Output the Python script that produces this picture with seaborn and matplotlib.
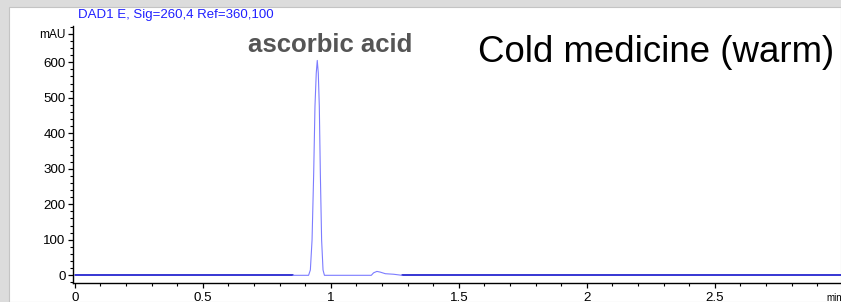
import numpy as np
import pandas as pd
import matplotlib
matplotlib.use("Agg")
import matplotlib.pyplot as plt
from matplotlib.patches import Rectangle
from matplotlib.ticker import MultipleLocator
import seaborn as sns

# ---- data ----
time_min = [0.0, 0.852, 0.913, 0.920, 0.9266, 0.933, 0.938, 0.943, 0.947, 0.951,
            0.955, 0.959, 0.964, 0.9695, 0.975, 1.158, 1.167, 1.180, 1.193, 1.213,
            1.245, 1.278, 3.0]
absorbance_mAU = [0, 0, 0, 15, 99, 287, 475, 569, 605, 569,
                  475, 287, 99, 15, 0, 0, 7, 11, 9, 4.5,
                  3, 0, 0]
x_ticks = [0, 0.5, 1, 1.5, 2, 2.5]
x_tick_labels = ["0", "0.5", "1", "1.5", "2", "2.5"]
y_ticks = [0, 100, 200, 300, 400, 500, 600, 680]
y_tick_labels = ["0", "100", "200", "300", "400", "500", "600", "mAU"]
signal_label = "DAD1 E, Sig=260,4 Ref=360,100"
peak_label = "ascorbic acid"
sample_title = "Cold medicine (warm)"
x_unit = "min"

sns.set_theme(style="ticks")
plt.rcParams["font.family"] = ["Liberation Sans", "DejaVu Sans"]

W, H = 841, 302
fig = plt.figure(figsize=(W / 100, H / 100), dpi=100)
fig.patch.set_facecolor("#dcdcdc")
bg = Rectangle((9 / W, 0), 1 - 9 / W, 1 - 7 / H, transform=fig.transFigure,
               facecolor="white", edgecolor="#c4c4c4", lw=0.8, zorder=-10)
fig.patches.append(bg)

ax = fig.add_axes([73.3 / W, (H - 283.3) / H, 1 - 73.3 / W, (283.3 - 26) / H])
ax.set_zorder(5)
ax.set_facecolor("none")

df = pd.DataFrame({"t": time_min, "a": absorbance_mAU})
t0, t1 = 0.852, 1.278
base_left = df[df.t <= t0]
peak_part = df[(df.t >= t0) & (df.t <= t1)]
base_right = df[df.t >= t1]

sns.lineplot(data=base_left, x="t", y="a", ax=ax, color="#0000c8", lw=1.1, estimator=None, sort=False)
sns.lineplot(data=base_right, x="t", y="a", ax=ax, color="#0000c8", lw=1.1, estimator=None, sort=False)
sns.lineplot(data=peak_part, x="t", y="a", ax=ax, color="#7c7cff", lw=0.8, estimator=None, sort=False)

ax.set_xlim(-0.006, (W - 73.3) / 256 - 0.006)
ax.set_ylim(-22.5, 702)
ax.set_xlabel("")
ax.set_ylabel("")

for s in ["top", "right"]:
    ax.spines[s].set_visible(False)
for s in ["left", "bottom"]:
    ax.spines[s].set_color("black")
    ax.spines[s].set_linewidth(1.0)

ax.set_xticks(x_ticks)
ax.set_xticklabels(x_tick_labels)
ax.set_yticks(y_ticks)
ax.set_yticklabels(y_tick_labels)
ax.xaxis.set_minor_locator(MultipleLocator(0.1))
ax.yaxis.set_minor_locator(MultipleLocator(20))
ax.tick_params(axis="both", which="major", direction="out", length=3.8, width=0.9,
               color="black", labelsize=9.6, pad=1.8, labelcolor="black")
ax.tick_params(axis="both", which="minor", direction="out", length=2.0, width=0.8, color="black")
for lab in ax.get_yticklabels():
    if lab.get_text() == "mAU":
        lab.set_fontsize(8.6)
ax.tick_params(axis="x", which="major", pad=2.2)

def ftext(x, y, s, **kw):
    fig.text(x / W, 1 - y / H, s, zorder=20, **kw)

ftext(78, 15, signal_label, color="#1f1fff", fontsize=9.5, va="center", ha="left")
ftext(248, 45, peak_label, color="#555555", fontsize=18.5, fontweight="bold", va="center", ha="left")
ftext(478, 52, sample_title, color="black", fontsize=26.4, va="center", ha="left")
ftext(826, 298, x_unit, color="black", fontsize=7, va="center", ha="left")

fig.savefig("out.png", dpi=100, facecolor=fig.get_facecolor())
